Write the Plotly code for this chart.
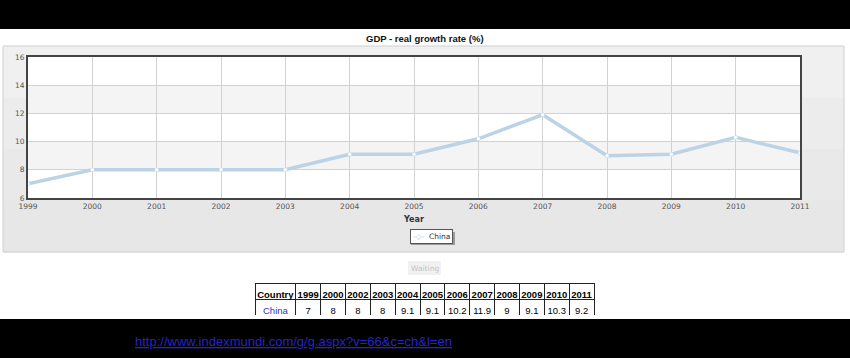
import plotly.graph_objects as go

# ---- data ----
years = [1999, 2000, 2001, 2002, 2003, 2004, 2005, 2006, 2007, 2008, 2009, 2010, 2011]
growth = [7, 8, 8, 8, 8, 9.1, 9.1, 10.2, 11.9, 9, 9.1, 10.3, 9.2]
y_ticks = [6, 8, 10, 12, 14, 16]
table_header = ["Country", "1999", "2000", "2002", "2003", "2004", "2005", "2006",
                "2007", "2008", "2009", "2010", "2011"]
table_country = ["China"]
table_values = [7, 8, 8, 8, 9.1, 9.1, 10.2, 11.9, 9, 9.1, 10.3, 9.2]
series_name = "China"
title_text = "GDP - real growth rate (%)"
url_text = "http://www.indexmundi.com/g/g.aspx?v=66&amp;c=ch&amp;l=en"

W, H = 850, 358
def fx(p):
    return p / W
def fy(p):
    return 1 - p / H

fig = go.Figure()
fig.add_trace(go.Scatter(
    x=years, y=growth, mode="lines+markers", name=series_name,
    line=dict(color="#bcd3e5", width=3.5),
    marker=dict(color="white", size=4, line=dict(color="#bcd3e5", width=0.5)),
    showlegend=False, hoverinfo="x+y"))

# table
cell_vals = [table_country] + [[v] for v in table_values]
font_cols = [["#3333cc"]] + [["black"]] * len(table_values)
fig.add_trace(go.Table(
    domain=dict(x=[fx(255), fx(594)], y=[fy(316), fy(283)]),
    columnwidth=[41] + [25] * len(table_values),
    header=dict(values=table_header, height=16,
                font=dict(family="Liberation Sans", size=9.5, color="black", weight="bold"),
                fill_color="white", line=dict(color="#222", width=1),
                align="center"),
    cells=dict(values=cell_vals, height=16,
               font=dict(family="Liberation Sans", size=9.5, color=font_cols),
               fill_color="white", line=dict(color="#222", width=1),
               align=["left"] + ["center"] * len(table_values)),
))

shapes = []
# black bars
shapes.append(dict(type="rect", xref="paper", yref="paper", x0=0, x1=1, y0=fy(0), y1=fy(29),
                   fillcolor="black", line=dict(width=0), layer="below"))
shapes.append(dict(type="rect", xref="paper", yref="paper", x0=0, x1=1, y0=fy(319), y1=fy(358),
                   fillcolor="black", line=dict(width=0), layer="below"))
# gray panel with slight vertical gradient
panel_cols = ["#f0f0f0", "#ececec", "#e9e9e9", "#e7e7e7"]
top, bot = 46, 252
step = (bot - top) / len(panel_cols)
for i, c in enumerate(panel_cols):
    shapes.append(dict(type="rect", xref="paper", yref="paper", x0=fx(3), x1=fx(844),
                       y0=fy(top + i * step), y1=fy(top + (i + 1) * step + 0.5),
                       fillcolor=c, line=dict(width=0), layer="below"))
shapes.append(dict(type="rect", xref="paper", yref="paper", x0=fx(3), x1=fx(844),
                   y0=fy(top), y1=fy(bot), fillcolor="rgba(0,0,0,0)",
                   line=dict(color="#cfcfcf", width=1), layer="below"))
# plot background white + alternating bands
shapes.append(dict(type="rect", xref="x", yref="y", x0=1999, x1=2011, y0=6, y1=16,
                   fillcolor="white", line=dict(width=0), layer="below"))
for b0 in (8, 12):
    shapes.append(dict(type="rect", xref="x", yref="y", x0=1999, x1=2011, y0=b0, y1=b0 + 2,
                       fillcolor="#f4f4f4", line=dict(width=0), layer="below"))
# legend shadow + waiting button
shapes.append(dict(type="rect", xref="paper", yref="paper", x0=fx(411), x1=fx(455),
                   y0=fy(232), y1=fy(245), fillcolor="#9a9a9a", line=dict(width=0)))
shapes.append(dict(type="rect", xref="paper", yref="paper", x0=fx(408), x1=fx(441),
                   y0=fy(261), y1=fy(275), fillcolor="#f1f1f1", line=dict(width=0)))

mid = dict(xref="paper", yref="paper", showarrow=False, xanchor="center", yanchor="middle")
annotations = [
    dict(text=title_text, x=fx(425), y=fy(39), **mid,
         font=dict(family="Liberation Sans", size=9.5, color="#111", weight="bold")),
    dict(text="Year", x=fx(413), y=fy(219), **mid,
         font=dict(family="DejaVu Sans", size=8, color="#333", weight="bold")),
    dict(text="<span style='color:#a9c6dc'>-◇-</span>  " + series_name,
         x=fx(431), y=fy(236.5), **mid,
         font=dict(family="DejaVu Sans", size=7.5, color="#333"),
         bgcolor="white", bordercolor="#555", borderwidth=1, borderpad=2),
    dict(text="Waiting", x=fx(424.5), y=fy(268), **mid,
         font=dict(family="DejaVu Sans", size=7.5, color="#c4c4c4")),
    dict(text="<u>" + url_text + "</u>", x=fx(133), y=fy(341), xref="paper", yref="paper",
         xanchor="left", yanchor="middle", showarrow=False,
         font=dict(family="Liberation Sans", size=13, color="#2424c8")),
]

fig.update_layout(
    width=W, height=H, autosize=False,
    margin=dict(l=0, r=0, t=0, b=0, autoexpand=False),
    paper_bgcolor="white", plot_bgcolor="rgba(0,0,0,0)",
    shapes=shapes, annotations=annotations, showlegend=False,
    xaxis=dict(domain=[fx(28), fx(800)], range=[1999, 2011], tickmode="array",
               tickvals=years, ticktext=[str(y) for y in years], automargin=False,
               showgrid=True, gridcolor="#d2d2d2", gridwidth=1,
               showline=True, linecolor="#444", linewidth=2, mirror=True,
               zeroline=False, ticks="",
               tickfont=dict(family="DejaVu Sans", size=7.5, color="#555")),
    yaxis=dict(domain=[fy(198), fy(57)], range=[6, 16], tickmode="array",
               tickvals=y_ticks, automargin=False,
               showgrid=True, gridcolor="#d2d2d2", gridwidth=1,
               showline=True, linecolor="#444", linewidth=2, mirror=True,
               zeroline=False, ticks="",
               tickfont=dict(family="DejaVu Sans", size=7.5, color="#555")),
)

fig.write_html("out.html", config={"displayModeBar": False},
               post_script="document.body.style.margin='0';document.body.style.overflow='hidden';")
